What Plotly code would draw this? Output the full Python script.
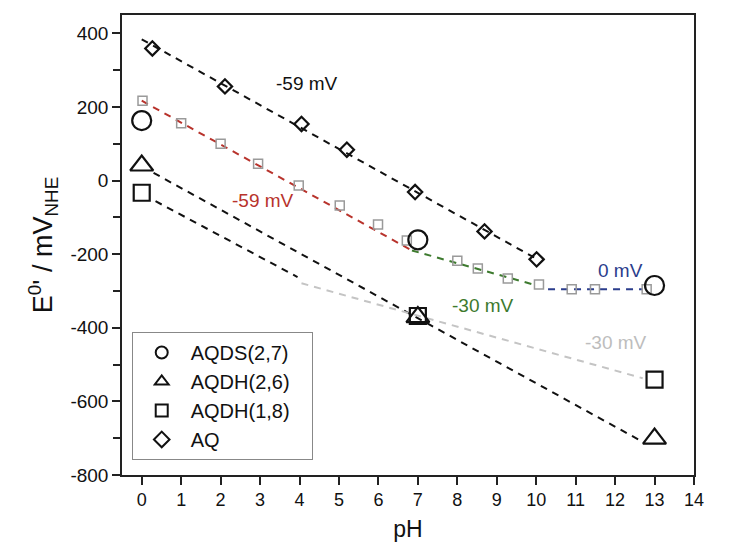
import plotly.graph_objects as go

# --- data ---
ph_aq = [0.27, 2.11, 4.05, 5.2, 6.93, 8.69, 10.01]
e_aq = [359, 256, 154, 84, -31, -138, -214]

ph_small = [0.02, 1.0, 2.0, 2.95, 3.98, 5.02, 5.99, 6.72, 8.0, 8.52, 9.28, 10.07, 10.9, 11.49, 12.8]
e_small = [217, 156, 100, 46, -13, -68, -119, -163, -218, -239, -266, -282, -295, -295, -295]

ph_big = [0, 7, 13]
e_aqds27 = [163, -161, -285]
e_aqdh26 = [41, -371, -701]
e_aqdh18 = [-33, -368, -541]

series_names = ["AQDS(2,7)", "AQDH(2,6)", "AQDH(1,8)", "AQ"]

# fitted slope lines (endpoints)
fit_aq_x, fit_aq_y = [0, 10], [384, -212]
fit_red_x, fit_red_y = [0, 6.85], [217, -190]
fit_green_x, fit_green_y = [6.85, 9.95], [-190, -283]
fit_blue_x, fit_blue_y = [10.3, 12.7], [-295, -295]
fit_26_x, fit_26_y = [0.3, 12.65], [21, -707]
fit_18_x, fit_18_y = [0.35, 3.95], [-56, -262]
fit_gray_x, fit_gray_y = [4.05, 12.7], [-279, -537]

labels = ["-59 mV", "-59 mV", "-30 mV", "0 mV", "-30 mV"]
label_x = [4.2, 3.07, 8.64, 12.13, 12.02]
label_y = [263, -54, -339, -244, -441]
label_col = ["#111111", "#b8332c", "#3d7a2e", "#2b3d8c", "#bdbdbd"]

x_ticks = list(range(0, 15))
y_ticks = list(range(-800, 401, 200))
y_ticktext = [str(v) for v in y_ticks]

fig = go.Figure()

dash = "7px,6px"
def fit(x, y, col):
    fig.add_trace(go.Scatter(x=x, y=y, mode="lines", showlegend=False,
                             line=dict(color=col, width=2, dash=dash), hoverinfo="skip"))

fit(fit_aq_x, fit_aq_y, "#111111")
fit(fit_26_x, fit_26_y, "#111111")
fit(fit_18_x, fit_18_y, "#111111")
fit(fit_gray_x, fit_gray_y, "#c4c4c4")
fit(fit_red_x, fit_red_y, "#b8332c")
fit(fit_green_x, fit_green_y, "#3d7a2e")
fit(fit_blue_x, fit_blue_y, "#2b3d8c")

fig.add_trace(go.Scatter(x=ph_small, y=e_small, mode="markers", showlegend=False,
                         marker=dict(symbol="square-open", size=9, color="#9a9a9a",
                                     line=dict(width=1.5, color="#9a9a9a"))))

pad = "\u00a0\u00a0\u00a0"
fig.add_trace(go.Scatter(x=ph_big, y=e_aqds27, mode="markers", name=series_names[0] + pad,
                         marker=dict(symbol="circle-open", size=19, color="#111111",
                                     line=dict(width=2.2))))
fig.add_trace(go.Scatter(x=ph_big, y=e_aqdh26, mode="markers", name=series_names[1] + pad,
                         marker=dict(symbol="triangle-up-open", size=20, color="#111111",
                                     line=dict(width=2.2))))
fig.add_trace(go.Scatter(x=ph_big, y=e_aqdh18, mode="markers", name=series_names[2] + pad,
                         marker=dict(symbol="square-open", size=16, color="#111111",
                                     line=dict(width=2.2))))
fig.add_trace(go.Scatter(x=ph_aq, y=e_aq, mode="markers", name=series_names[3],
                         marker=dict(symbol="diamond-open", size=11, color="#111111",
                                     line=dict(width=2.2))))

for t, x, y, c in zip(labels, label_x, label_y, label_col):
    fig.add_annotation(x=x, y=y, text=t, showarrow=False,
                       font=dict(size=19, color=c, family="Liberation Sans, Arial"))

# page body adds an 8px offset, so the figure is drawn 8px smaller
fig.update_layout(
    width=728, height=550,
    margin=dict(l=114, r=42, t=7, b=83),
    plot_bgcolor="white", paper_bgcolor="white",
    font=dict(family="Liberation Sans, Arial", size=19, color="#111111"),
    legend=dict(x=0.017, y=0.311, xanchor="left", yanchor="top",
                bordercolor="#888888", borderwidth=1, bgcolor="white",
                font=dict(size=20), tracegroupgap=0, itemwidth=48,
                itemsizing="constant"),
    xaxis=dict(range=[-0.5, 14], tickvals=x_ticks, ticks="outside", ticklen=8,
               tickwidth=1.5, tickcolor="#222", showline=True, linecolor="#222",
               linewidth=1.5, mirror=True, showgrid=False, zeroline=False,
               automargin=False, tickfont=dict(size=18),
               title=dict(text="pH", font=dict(size=23), standoff=12)),
    yaxis=dict(range=[-800, 450], tickvals=y_ticks, ticktext=y_ticktext,
               ticks="outside", ticklen=8,
               tickwidth=1.5, tickcolor="#222", showline=True, linecolor="#222",
               linewidth=1.5, mirror=True, showgrid=False, zeroline=False,
               automargin=False, tickfont=dict(size=19),
               minor=dict(dtick=100, ticks="outside", ticklen=7, tickwidth=1.5, tickcolor="#222"),
               title=dict(text="E<sup>0</sup>' / mV<sub>NHE</sub>", font=dict(size=27), standoff=10)),
)

fig.write_html("out.html")
